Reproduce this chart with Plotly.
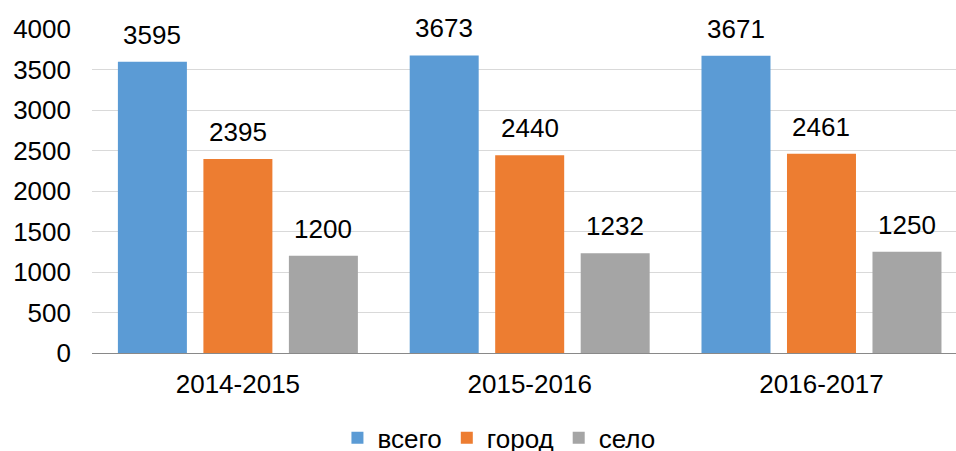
import plotly.graph_objects as go

categories = ["2014-2015", "2015-2016", "2016-2017"]
series_names = ["всего", "город", "село"]
vsego = [3595, 3673, 3671]
gorod = [2395, 2440, 2461]
selo = [1200, 1232, 1250]
y_ticks = [0, 500, 1000, 1500, 2000, 2500, 3000, 3500, 4000]

colors = ["#5B9BD5", "#ED7D31", "#A5A5A5"]
values = [vsego, gorod, selo]

FONT = "Liberation Sans, Arial, sans-serif"
FS = 26
BARGAP = 0.121
GROUPGAP = 0.193

fig = go.Figure()
for name, vals, col in zip(series_names, values, colors):
    fig.add_trace(go.Bar(x=categories, y=vals, name=name, marker_color=col,
                         marker_line_width=0))

slot = (1 - BARGAP) / len(values)
for j, vals in enumerate(values):
    off = (j - (len(values) - 1) / 2) * slot
    for i, v in enumerate(vals):
        fig.add_annotation(x=i + off, y=v, xref="x", yref="y", text=str(v),
                           showarrow=False, yanchor="bottom", yshift=10,
                           font=dict(family=FONT, size=FS, color="#000000"))

fig.update_layout(
    width=956, height=451,
    margin=dict(l=92, r=0, t=29, b=98, autoexpand=False),
    paper_bgcolor="white", plot_bgcolor="white",
    barmode="group", bargap=BARGAP, bargroupgap=GROUPGAP,
    font=dict(family=FONT, size=FS, color="#000000"),
    showlegend=True,
    legend=dict(orientation="h", x=0.471, xanchor="center",
                y=-0.262, yanchor="middle", yref="paper",
                itemwidth=30, font=dict(size=FS), traceorder="normal",
                bgcolor="rgba(0,0,0,0)", tracegroupgap=0),
)
fig.update_xaxes(range=[-0.5, 2.461], showline=True, linecolor="#898989",
                 linewidth=1, ticks="", showgrid=False, ticklabelstandoff=8,
                 automargin=False, tickfont=dict(size=FS, color="#000000"))
fig.update_yaxes(range=[0, 4000], tickvals=y_ticks, showgrid=True,
                 gridcolor="#D9D9D9", gridwidth=1, zeroline=False,
                 showline=False, ticks="", ticklabelstandoff=20,
                 automargin=False, tickfont=dict(size=FS, color="#000000"))

fig.write_html("out.html", config={"displayModeBar": False},
               post_script="document.body.style.margin='0';"
                           "document.body.style.overflow='hidden';")
